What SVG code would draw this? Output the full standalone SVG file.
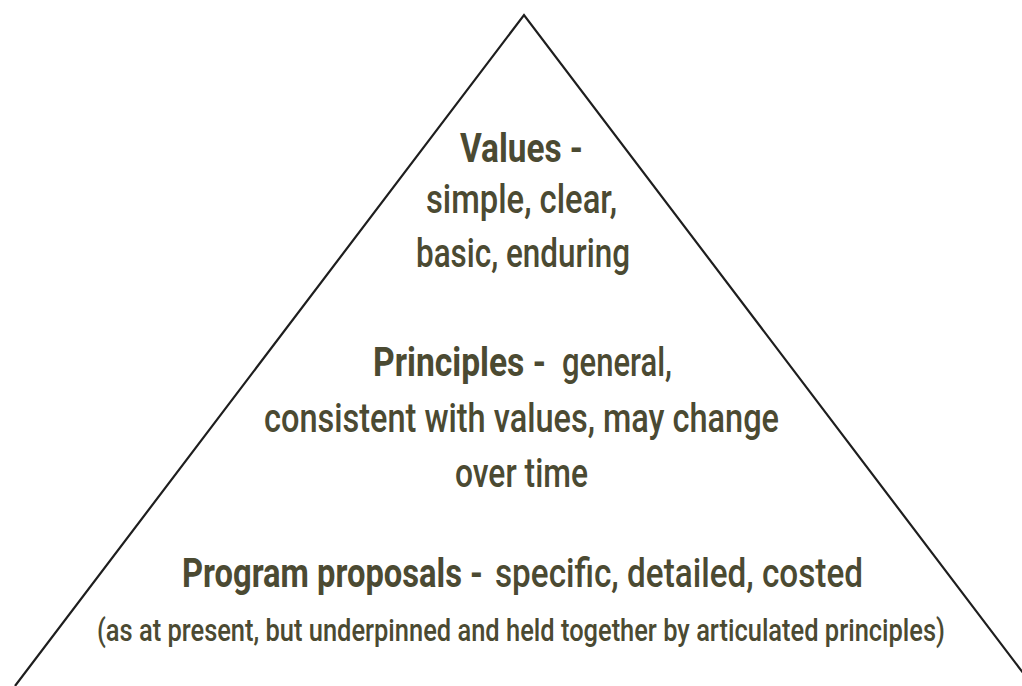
<svg xmlns="http://www.w3.org/2000/svg" width="1022" height="686" viewBox="0 0 1022 686">
<style>
.t{font-family:Roboto,"Noto Sans","DejaVu Sans",sans-serif;fill:#4b4a32;font-weight:500;text-anchor:start}
.h{font-weight:700}
.m{font-size:40px}
.s{font-size:31px}
.edge{fill:none;stroke:#1e1e1e;stroke-width:2.2;stroke-linejoin:miter}
</style>
<rect width="1022" height="686" fill="#ffffff"/>
<g id="pyramid">
<polyline class="edge" points="15,686 524,15 1033,686"/>
</g>
<g id="values" transform="scale(0.8,1)">
<text class="t m h" x="575" y="162" textLength="153.75" lengthAdjust="spacingAndGlyphs">Values -</text>
<text class="t m" x="532.5" y="213" textLength="238.75" lengthAdjust="spacingAndGlyphs">simple, clear,</text>
<text class="t m" x="520" y="267" textLength="267.5" lengthAdjust="spacingAndGlyphs">basic, enduring</text>
</g>
<g id="principles" transform="scale(0.8,1)">
<text class="t m h" x="466.25" y="376" textLength="216.25" lengthAdjust="spacingAndGlyphs">Principles -</text>
<text class="t m" x="702.5" y="376" textLength="137.5" lengthAdjust="spacingAndGlyphs">general,</text>
<text class="t m" x="330" y="432" textLength="643.75" lengthAdjust="spacingAndGlyphs">consistent with values, may change</text>
<text class="t m" x="568.75" y="487" textLength="166.25" lengthAdjust="spacingAndGlyphs">over time</text>
</g>
<g id="program" transform="scale(0.8,1)">
<text class="t m h" x="227.5" y="587" textLength="376.25" lengthAdjust="spacingAndGlyphs">Program proposals -</text>
<text class="t m" x="618.75" y="587" textLength="460" lengthAdjust="spacingAndGlyphs">specific, detailed, costed</text>
<text class="t s" x="121.25" y="641" textLength="1060" lengthAdjust="spacingAndGlyphs">(as at present, but underpinned and held together by articulated principles)</text>
</g>
</svg>
